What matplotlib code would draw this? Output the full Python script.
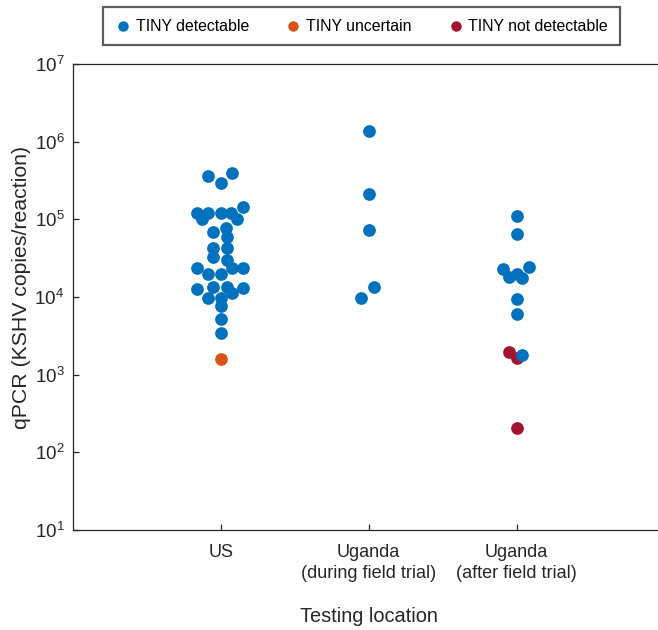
import matplotlib
matplotlib.use("Agg")
import matplotlib.pyplot as plt
import numpy as np

plt.rcParams['font.family'] = ['Liberation Sans', 'DejaVu Sans']
plt.rcParams['mathtext.fontset'] = 'custom'
plt.rcParams['mathtext.rm'] = 'Liberation Sans'
plt.rcParams['mathtext.it'] = 'Liberation Sans:italic'

# categories on the x axis
locations = ["US", "Uganda\n(during field trial)", "Uganda\n(after field trial)"]

# US samples (qPCR copies/reaction) and swarm offsets
us_detect = [3.6e5, 2.95e5, 3.96e5, 1.45e5, 1.19e5, 1.19e5, 1.19e5, 1.19e5,
             1.0e5, 1.0e5, 6.9e4, 7.6e4, 5.85e4, 4.22e4, 4.22e4, 3.29e4,
             2.99e4, 2.33e4, 2.33e4, 2.33e4, 1.95e4, 1.95e4, 1.35e4, 1.35e4,
             1.25e4, 1.29e4, 1.11e4, 9.8e3, 9.8e3, 7.75e3, 5.15e3, 3.46e3]
us_detect_dx = [-0.088, 0.0, 0.078, 0.149, -0.162, -0.084, 0.0, 0.07,
                -0.128, 0.108, -0.05, 0.037, 0.04, -0.05, 0.04, -0.05,
                0.04, -0.162, 0.074, 0.149, -0.084, 0.0, -0.05, 0.04,
                -0.162, 0.149, 0.074, -0.084, 0.0, 0.0, 0.0, 0.0]
us_uncertain = [1.57e3]
us_uncertain_dx = [0.0]

# Uganda during field trial
dur_detect = [1.37e6, 2.09e5, 7.26e4, 1.35e4, 9.6e3]
dur_detect_dx = [0.0, 0.0, 0.0, 0.038, -0.052]

# Uganda after field trial
aft_detect = [1.10e5, 6.4e4, 2.29e4, 2.45e4, 1.79e4, 1.97e4, 1.73e4, 9.4e3, 6.0e3, 1.79e3]
aft_detect_dx = [0.0, 0.0, -0.095, 0.083, -0.052, 0.0, 0.038, 0.0, 0.0, 0.038]
aft_notdet = [1.97e3, 1.62e3, 204]
aft_notdet_dx = [-0.052, 0.0, 0.0]

blue = '#0072BD'
orange = '#D95319'
red = '#A2142F'
axis_col = '#262626'
ms = 84

fig = plt.figure(figsize=(6.58, 6.30), dpi=100)
ax = fig.add_axes([0.1105, 0.1587, 0.8997, 0.740])

det_x = np.concatenate([1 + np.array(us_detect_dx), 2 + np.array(dur_detect_dx),
                        3 + np.array(aft_detect_dx)])
det_y = np.concatenate([us_detect, dur_detect, aft_detect])

h_red = ax.scatter(3 + np.array(aft_notdet_dx), aft_notdet, s=ms, color=red,
                   linewidths=0, label='TINY not detectable', zorder=3)
h_org = ax.scatter(1 + np.array(us_uncertain_dx), us_uncertain, s=ms, color=orange,
                   linewidths=0, label='TINY uncertain', zorder=3)
h_blue = ax.scatter(det_x, det_y, s=ms, color=blue, linewidths=0,
                    label='TINY detectable', zorder=4)

ax.set_yscale('log')
ax.set_ylim(10, 1e7)
ax.set_xlim(0, 4)
ax.set_xticks([1, 2, 3])
ax.set_xticklabels(locations, linespacing=1.35)
ax.yaxis.set_minor_locator(matplotlib.ticker.NullLocator())

for side in ['left', 'bottom', 'top']:
    ax.spines[side].set_color(axis_col)
    ax.spines[side].set_linewidth(0.9)
ax.spines['right'].set_visible(False)
ax.tick_params(direction='in', length=4.5, width=0.9, colors=axis_col,
               labelsize=13.5, pad=6)
ax.tick_params(axis='x', labelsize=13, pad=10)

ax.set_ylabel('qPCR (KSHV copies/reaction)', fontsize=15.3, color=axis_col)
ax.yaxis.set_label_coords(-0.07, 0.52)
ax.set_xlabel('Testing location', fontsize=14.4, color=axis_col, labelpad=18)

leg = fig.legend(handles=[h_blue, h_org, h_red], loc='center',
                 bbox_to_anchor=(0.5494, 0.9587), ncol=3, fontsize=11.4,
                 frameon=True, fancybox=False, handletextpad=0.3,
                 columnspacing=2.3, borderpad=0.75, handlelength=1.0,
                 markerscale=0.82)
leg.get_frame().set_edgecolor('#333333')
leg.get_frame().set_linewidth(1.6)

fig.savefig('out.png', dpi=100)
